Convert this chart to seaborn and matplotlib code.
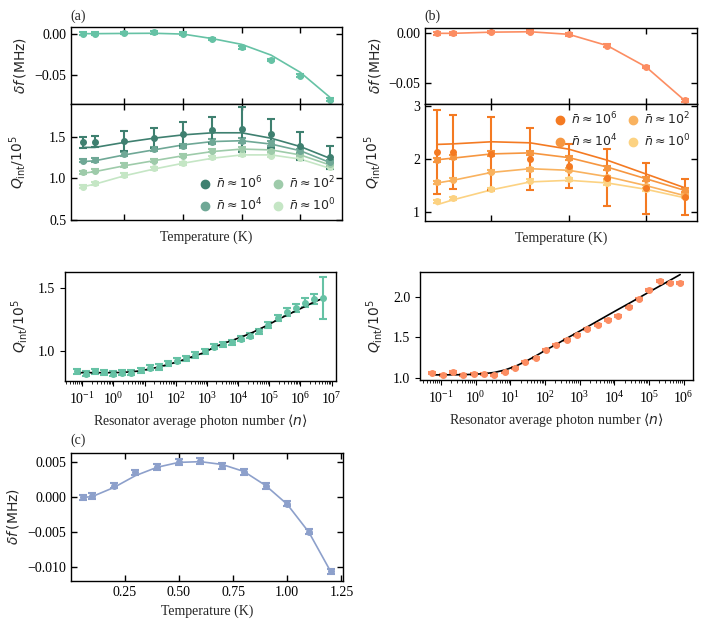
import numpy as np
import matplotlib
matplotlib.use("Agg")
import matplotlib.pyplot as plt
import seaborn as sns
from matplotlib.lines import Line2D
from matplotlib.font_manager import FontProperties
from matplotlib.ticker import MultipleLocator, LogLocator, NullFormatter

# ---------------- data ----------------
# panel (a): temperature sweep, resonator 1
temp_a = [0.06, 0.1, 0.2, 0.3, 0.4, 0.5, 0.6, 0.7, 0.8, 0.9]
df_a = [0.0, 0.0, 0.001, 0.0015, 0.0, -0.0065, -0.0167, -0.0317, -0.051, -0.080]
df_a_err = [0.0015, 0.0015, 0.0015, 0.0015, 0.0015, 0.0015, 0.0015, 0.0015, 0.0015, 0.0015]
df_a_fit = [0.0, 0.0, 0.0003, 0.0005, -0.0005, -0.006, -0.013, -0.026, -0.047, -0.077]

qa_n6 = [1.43, 1.44, 1.45, 1.48, 1.53, 1.58, 1.59, 1.535, 1.39, 1.25]
qa_n6_err = [0.07, 0.07, 0.12, 0.12, 0.14, 0.16, 0.27, 0.17, 0.17, 0.14]
qa_n6_fit = [1.37, 1.37, 1.43, 1.48, 1.52, 1.545, 1.545, 1.48, 1.38, 1.24]
qa_n4 = [1.21, 1.22, 1.29, 1.35, 1.39, 1.44, 1.45, 1.42, 1.33, 1.20]
qa_n4_err = [0.02, 0.02, 0.02, 0.025, 0.025, 0.03, 0.03, 0.03, 0.025, 0.02]
qa_n4_fit = [1.20, 1.21, 1.28, 1.34, 1.40, 1.44, 1.45, 1.41, 1.33, 1.19]
qa_n2 = [1.07, 1.09, 1.16, 1.21, 1.27, 1.33, 1.35, 1.33, 1.29, 1.17]
qa_n2_err = [0.02, 0.02, 0.02, 0.02, 0.02, 0.02, 0.02, 0.02, 0.02, 0.02]
qa_n2_fit = [1.06, 1.08, 1.15, 1.21, 1.27, 1.32, 1.35, 1.34, 1.28, 1.16]
qa_n0 = [0.90, 0.94, 1.04, 1.12, 1.18, 1.25, 1.29, 1.27, 1.24, 1.13]
qa_n0_err = [0.02, 0.02, 0.02, 0.02, 0.02, 0.02, 0.02, 0.02, 0.02, 0.02]
qa_n0_fit = [0.90, 0.93, 1.03, 1.11, 1.18, 1.24, 1.28, 1.28, 1.23, 1.12]

# panel (b): temperature sweep, resonator 2
temp_b = [0.06, 0.1, 0.2, 0.3, 0.4, 0.5, 0.6, 0.7]
df_b = [0.0, 0.0, 0.0014, 0.0017, -0.001, -0.0125, -0.034, -0.068]
df_b_err = [0.0012, 0.0012, 0.0012, 0.0012, 0.0012, 0.0012, 0.0012, 0.0012]
df_b_fit = [0.0, 0.0, 0.0012, 0.0016, -0.001, -0.0125, -0.034, -0.068]

qb_n6 = [2.14, 2.14, 2.10, 2.01, 1.87, 1.65, 1.45, 1.28]
qb_n6_err = [0.79, 0.70, 0.69, 0.59, 0.42, 0.54, 0.48, 0.34]
qb_n6_fit = [2.28, 2.29, 2.33, 2.31, 2.19, 1.98, 1.72, 1.46]
qb_n4 = [1.99, 2.04, 2.11, 2.12, 2.03, 1.83, 1.63, 1.42]
qb_n4_err = [0.04, 0.04, 0.04, 0.04, 0.04, 0.04, 0.04, 0.04]
qb_n4_fit = [1.99, 2.02, 2.10, 2.12, 2.03, 1.85, 1.63, 1.41]
qb_n2 = [1.56, 1.61, 1.76, 1.81, 1.80, 1.66, 1.49, 1.32]
qb_n2_err = [0.03, 0.03, 0.03, 0.03, 0.03, 0.03, 0.03, 0.03]
qb_n2_fit = [1.55, 1.60, 1.75, 1.82, 1.79, 1.67, 1.50, 1.31]
qb_n0 = [1.20, 1.26, 1.43, 1.59, 1.62, 1.55, 1.43, 1.29]
qb_n0_err = [0.03, 0.03, 0.03, 0.03, 0.03, 0.03, 0.03, 0.03]
qb_n0_fit = [1.14, 1.23, 1.42, 1.57, 1.60, 1.55, 1.43, 1.27]

# power sweeps
nphot_a = [0.066, 0.13, 0.255, 0.50, 0.98, 1.93, 3.78, 7.43, 14.6, 28.6,
           56.2, 110, 217, 426, 836, 1640, 3220, 6330, 12400, 24400,
           47900, 94000, 185000, 362000, 711000, 1.40e6, 2.74e6, 5.38e6]
qn_a = [0.84, 0.82, 0.84, 0.835, 0.82, 0.83, 0.83, 0.85, 0.87, 0.875,
        0.905, 0.925, 0.945, 0.97, 1.0, 1.037, 1.055, 1.07, 1.10, 1.123,
        1.16, 1.206, 1.264, 1.31, 1.343, 1.385, 1.416, 1.424]
qn_a_err = [0.02, 0.02, 0.02, 0.02, 0.02, 0.02, 0.02, 0.02, 0.02, 0.02,
            0.02, 0.02, 0.02, 0.02, 0.02, 0.02, 0.02, 0.02, 0.02, 0.02,
            0.02, 0.025, 0.025, 0.03, 0.035, 0.035, 0.04, 0.165]
qn_a_fit = [0.83, 0.83, 0.83, 0.83, 0.83, 0.832, 0.837, 0.845, 0.86, 0.875,
            0.895, 0.915, 0.94, 0.965, 0.99, 1.03, 1.06, 1.085, 1.112, 1.14,
            1.175, 1.21, 1.25, 1.285, 1.32, 1.355, 1.39, 1.42]

nphot_b = [0.0575, 0.114, 0.226, 0.449, 0.891, 1.77, 3.51, 6.96, 13.8, 27.4,
           54.3, 108, 214, 424, 841, 1670, 3310, 6570, 13000, 25800,
           51300, 102000, 202000, 400000, 794000]
qn_b = [1.06, 1.03, 1.07, 1.03, 1.045, 1.045, 1.035, 1.065, 1.115, 1.19,
        1.25, 1.34, 1.41, 1.47, 1.535, 1.60, 1.66, 1.715, 1.765, 1.877,
        1.98, 2.09, 2.20, 2.18, 2.18]
qn_b_err = [0.012] * 25
qn_b_fit = [1.035, 1.035, 1.036, 1.037, 1.042, 1.05, 1.065, 1.095, 1.14, 1.20,
            1.27, 1.345, 1.415, 1.489, 1.56, 1.632, 1.705, 1.778, 1.85, 1.921,
            1.994, 2.067, 2.139, 2.21, 2.283]

# panel (c)
temp_c = [0.06, 0.1, 0.2, 0.3, 0.4, 0.5, 0.6, 0.7, 0.8, 0.9, 1.0, 1.1, 1.2]
df_c = [0.0, 0.00015, 0.00167, 0.00357, 0.0043, 0.00505, 0.0052, 0.0045,
        0.0036, 0.0016, -0.0009, -0.0049, -0.0106]
df_c_err = [0.0004] * 13
df_c_fit = [0.0, 0.0001, 0.0014, 0.0031, 0.0043, 0.0050, 0.0051, 0.0047,
            0.0037, 0.0017, -0.0010, -0.0050, -0.0106]

labels = [r'$\bar{n} \approx 10^6$', r'$\bar{n} \approx 10^4$',
          r'$\bar{n} \approx 10^2$', r'$\bar{n} \approx 10^0$']
greens = ['#3f8070', '#6fa896', '#9ecbaa', '#c5e6c5']
oranges = ['#f47a22', '#f69640', '#f9b25f', '#fcd282']
c_green, c_orange, c_blue = '#66c2a5', '#fc8d62', '#8da0cb'

# ---------------- style ----------------
sns.set_style("ticks")
plt.rcParams['font.family'] = ['Liberation Serif', 'DejaVu Sans']
plt.rcParams['mathtext.fontset'] = 'stix'
plt.rcParams['font.size'] = 10
plt.rcParams['axes.linewidth'] = 1.0
plt.rcParams['axes.edgecolor'] = 'black'
plt.rcParams['xtick.color'] = 'black'
plt.rcParams['ytick.color'] = 'black'

W, H = 707, 627
fig = plt.figure(figsize=(W / 100, H / 100), dpi=100)


def box(x0, y0, x1, y1):
    return [x0 / W, 1 - y1 / H, (x1 - x0) / W, (y1 - y0) / H]


sans = dict(fontfamily='DejaVu Sans', math_fontfamily='dejavusans', fontsize=10)
leg_font = FontProperties(family='DejaVu Sans', size=9, math_fontfamily='dejavusans')
eb = dict(fmt='o', ms=4, capsize=3, elinewidth=1.5, capthick=1.5)


def inward(ax):
    ax.tick_params(direction='in', top=True, right=True, length=4, width=1)


def add_legend(ax, colors, loc):
    handles = [Line2D([], [], marker='o', ls='none', ms=6, color=c) for c in colors]
    ax.legend(handles, labels, loc=loc, ncol=2, frameon=False, prop=leg_font,
              handletextpad=0.1, columnspacing=0.4, labelspacing=0.45,
              borderaxespad=0.15, handlelength=1.6)


def log_ticks(ax):
    ax.xaxis.set_major_locator(LogLocator(base=10, numticks=20))
    ax.xaxis.set_minor_locator(LogLocator(base=10, subs=np.arange(2, 10), numticks=20))
    ax.xaxis.set_minor_formatter(NullFormatter())


# ---- (a) ----
ax1 = fig.add_axes(box(71, 27, 342, 104))
sns.lineplot(x=temp_a, y=df_a_fit, ax=ax1, color=c_green, lw=1.2)
ax1.errorbar(temp_a, df_a, yerr=df_a_err, color=c_green, **eb)
ax1.set_ylim(-0.0854, 0.0081)
ax1.set_yticks([0.0, -0.05])
ax1.set_xticks([0.2, 0.4, 0.6, 0.8])
ax1.set_xticklabels([])
ax1.set_ylabel(r'$\delta f\,$(MHz)', **sans)
ax1.yaxis.set_label_coords(-0.16, 0.5)
inward(ax1)

ax2 = fig.add_axes(box(71, 104, 342, 220), sharex=ax1)
series_a = [(qa_n6, qa_n6_err, qa_n6_fit), (qa_n4, qa_n4_err, qa_n4_fit),
            (qa_n2, qa_n2_err, qa_n2_fit), (qa_n0, qa_n0_err, qa_n0_fit)]
for (q, e, f), c in reversed(list(zip(series_a, greens))):
    sns.lineplot(x=temp_a, y=f, ax=ax2, color=c, lw=1.2)
    ax2.errorbar(temp_a, q, yerr=e, color=c, **eb)
ax2.set_ylim(0.5, 1.89)
ax2.set_yticks([0.5, 1.0, 1.5])
ax2.set_xlabel('Temperature (K)')
ax2.set_ylabel(r'$Q_{\rm int}/10^5$', **sans)
ax2.yaxis.set_label_coords(-0.16, 0.5)
plt.setp(ax2.get_xticklabels(), visible=True)
inward(ax2)
add_legend(ax2, greens, 'lower right')

# ---- (b) ----
ax3 = fig.add_axes(box(425, 28, 697, 104))
sns.lineplot(x=temp_b, y=df_b_fit, ax=ax3, color=c_orange, lw=1.2)
ax3.errorbar(temp_b, df_b, yerr=df_b_err, color=c_orange, **eb)
ax3.set_ylim(-0.0716, 0.0054)
ax3.set_yticks([0.0, -0.05])
ax3.set_xticks([0.2, 0.4, 0.6])
ax3.set_xticklabels([])
ax3.set_ylabel(r'$\delta f\,$(MHz)', **sans)
ax3.yaxis.set_label_coords(-0.155, 0.5)
inward(ax3)

ax4 = fig.add_axes(box(425, 104, 697, 221), sharex=ax3)
series_b = [(qb_n6, qb_n6_err, qb_n6_fit), (qb_n4, qb_n4_err, qb_n4_fit),
            (qb_n2, qb_n2_err, qb_n2_fit), (qb_n0, qb_n0_err, qb_n0_fit)]
for (q, e, f), c in reversed(list(zip(series_b, oranges))):
    sns.lineplot(x=temp_b, y=f, ax=ax4, color=c, lw=1.2)
    ax4.errorbar(temp_b, q, yerr=e, color=c, **eb)
ax4.set_ylim(0.83, 3.045)
ax4.set_yticks([1, 2, 3])
ax4.set_xlabel('Temperature (K)')
ax4.set_ylabel(r'$Q_{\rm int}/10^5$', **sans)
ax4.yaxis.set_label_coords(-0.155, 0.5)
plt.setp(ax4.get_xticklabels(), visible=True)
inward(ax4)
add_legend(ax4, oranges, 'upper right')

# ---- power sweeps ----
ax5 = fig.add_axes(box(65, 272, 336, 381))
ax5.set_xscale('log')
ax5.errorbar(nphot_a, qn_a, yerr=qn_a_err, color=c_green, **eb)
sns.lineplot(x=nphot_a, y=qn_a_fit, ax=ax5, color='black', lw=1.2)
ax5.set_xlim(10 ** -1.556, 10 ** 7.14)
ax5.set_ylim(0.764, 1.628)
ax5.yaxis.set_major_locator(MultipleLocator(0.5))
log_ticks(ax5)
ax5.set_xlabel(r'Resonator average photon number $\langle n \rangle$', math_fontfamily='dejavusans')
ax5.set_ylabel(r'$Q_{\rm int}/10^5$', **sans)
ax5.yaxis.set_label_coords(-0.13, 0.5)

ax6 = fig.add_axes(box(420, 272, 693, 380))
ax6.set_xscale('log')
ax6.errorbar(nphot_b, qn_b, yerr=qn_b_err, color=c_orange, **eb)
sns.lineplot(x=nphot_b, y=qn_b_fit, ax=ax6, color='black', lw=1.2)
ax6.set_xlim(10 ** -1.6, 10 ** 6.27)
ax6.set_ylim(0.971, 2.315)
ax6.yaxis.set_major_locator(MultipleLocator(0.5))
log_ticks(ax6)
ax6.set_xlabel(r'Resonator average photon number $\langle n \rangle$', math_fontfamily='dejavusans')
ax6.set_ylabel(r'$Q_{\rm int}/10^5$', **sans)
ax6.yaxis.set_label_coords(-0.13, 0.5)

# ---- (c) ----
ax7 = fig.add_axes(box(71, 453, 343, 581))
sns.lineplot(x=temp_c, y=df_c_fit, ax=ax7, color=c_blue, lw=1.2)
ax7.errorbar(temp_c, df_c, yerr=df_c_err, color=c_blue, **eb)
ax7.set_ylim(-0.01196, 0.00634)
ax7.set_yticks([0.005, 0.0, -0.005, -0.010])
ax7.set_xticks([0.25, 0.5, 0.75, 1.0, 1.25])
ax7.set_xlabel('Temperature (K)')
ax7.set_ylabel(r'$\delta f\,$(MHz)', **sans)
ax7.yaxis.set_label_coords(-0.185, 0.5)
inward(ax7)

for ax in [ax1, ax2, ax3, ax4, ax5, ax6, ax7]:
    for s in ax.spines.values():
        s.set_visible(True)
        s.set_color('black')

fig.text(70 / W, 1 - 16.5 / H, '(a)', va='center', fontsize=10)
fig.text(424 / W, 1 - 16.5 / H, '(b)', va='center', fontsize=10)
fig.text(70 / W, 1 - 440 / H, '(c)', va='center', fontsize=10)

fig.savefig('out.png', dpi=100)
